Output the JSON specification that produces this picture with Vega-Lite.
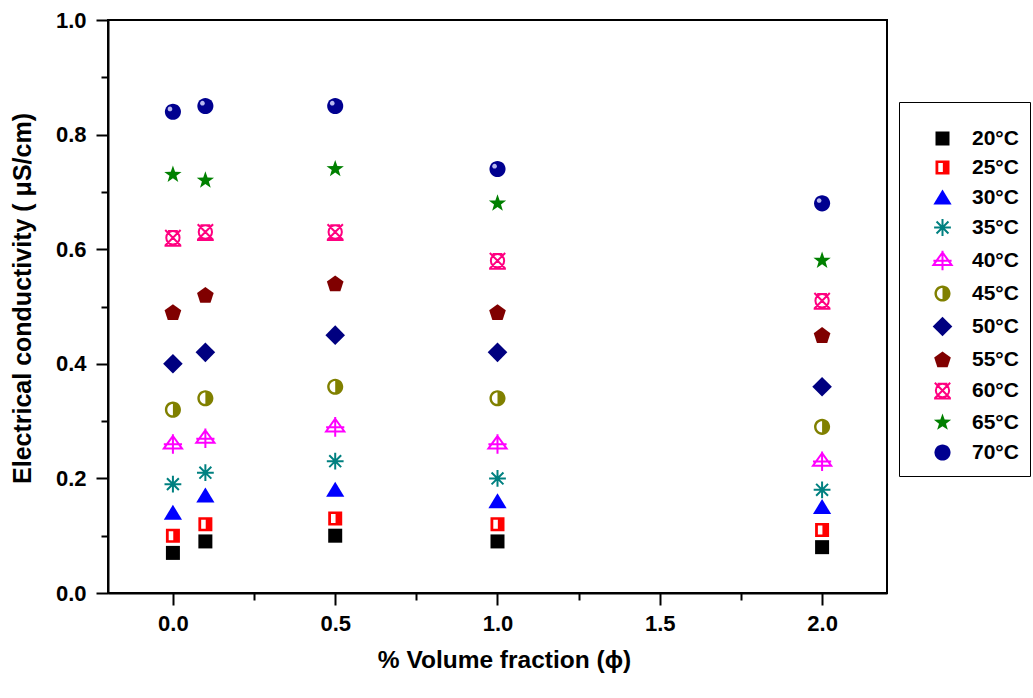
{
  "$schema": "https://vega.github.io/schema/vega-lite/v6.json",
  "width": 779,
  "height": 573,
  "autosize": {"type": "none"},
  "padding": {"left": 108, "top": 20, "right": 146, "bottom": 105},
  "background": "white",
  "data": {
    "values": [
      {"phi": 0, "temp": "20°C", "sigma": 0.07},
      {"phi": 0, "temp": "25°C", "sigma": 0.10},
      {"phi": 0, "temp": "30°C", "sigma": 0.14},
      {"phi": 0, "temp": "35°C", "sigma": 0.19},
      {"phi": 0, "temp": "40°C", "sigma": 0.26},
      {"phi": 0, "temp": "45°C", "sigma": 0.32},
      {"phi": 0, "temp": "50°C", "sigma": 0.40},
      {"phi": 0, "temp": "55°C", "sigma": 0.49},
      {"phi": 0, "temp": "60°C", "sigma": 0.62},
      {"phi": 0, "temp": "65°C", "sigma": 0.73},
      {"phi": 0, "temp": "70°C", "sigma": 0.84},
      {"phi": 0.1, "temp": "20°C", "sigma": 0.09},
      {"phi": 0.1, "temp": "25°C", "sigma": 0.12},
      {"phi": 0.1, "temp": "30°C", "sigma": 0.17},
      {"phi": 0.1, "temp": "35°C", "sigma": 0.21},
      {"phi": 0.1, "temp": "40°C", "sigma": 0.27},
      {"phi": 0.1, "temp": "45°C", "sigma": 0.34},
      {"phi": 0.1, "temp": "50°C", "sigma": 0.42},
      {"phi": 0.1, "temp": "55°C", "sigma": 0.52},
      {"phi": 0.1, "temp": "60°C", "sigma": 0.63},
      {"phi": 0.1, "temp": "65°C", "sigma": 0.72},
      {"phi": 0.1, "temp": "70°C", "sigma": 0.85},
      {"phi": 0.5, "temp": "20°C", "sigma": 0.10},
      {"phi": 0.5, "temp": "25°C", "sigma": 0.13},
      {"phi": 0.5, "temp": "30°C", "sigma": 0.18},
      {"phi": 0.5, "temp": "35°C", "sigma": 0.23},
      {"phi": 0.5, "temp": "40°C", "sigma": 0.29},
      {"phi": 0.5, "temp": "45°C", "sigma": 0.36},
      {"phi": 0.5, "temp": "50°C", "sigma": 0.45},
      {"phi": 0.5, "temp": "55°C", "sigma": 0.54},
      {"phi": 0.5, "temp": "60°C", "sigma": 0.63},
      {"phi": 0.5, "temp": "65°C", "sigma": 0.74},
      {"phi": 0.5, "temp": "70°C", "sigma": 0.85},
      {"phi": 1.0, "temp": "20°C", "sigma": 0.09},
      {"phi": 1.0, "temp": "25°C", "sigma": 0.12},
      {"phi": 1.0, "temp": "30°C", "sigma": 0.16},
      {"phi": 1.0, "temp": "35°C", "sigma": 0.20},
      {"phi": 1.0, "temp": "40°C", "sigma": 0.26},
      {"phi": 1.0, "temp": "45°C", "sigma": 0.34},
      {"phi": 1.0, "temp": "50°C", "sigma": 0.42},
      {"phi": 1.0, "temp": "55°C", "sigma": 0.49},
      {"phi": 1.0, "temp": "60°C", "sigma": 0.58},
      {"phi": 1.0, "temp": "65°C", "sigma": 0.68},
      {"phi": 1.0, "temp": "70°C", "sigma": 0.74},
      {"phi": 2.0, "temp": "20°C", "sigma": 0.08},
      {"phi": 2.0, "temp": "25°C", "sigma": 0.11},
      {"phi": 2.0, "temp": "30°C", "sigma": 0.15},
      {"phi": 2.0, "temp": "35°C", "sigma": 0.18},
      {"phi": 2.0, "temp": "40°C", "sigma": 0.23},
      {"phi": 2.0, "temp": "45°C", "sigma": 0.29},
      {"phi": 2.0, "temp": "50°C", "sigma": 0.36},
      {"phi": 2.0, "temp": "55°C", "sigma": 0.45},
      {"phi": 2.0, "temp": "60°C", "sigma": 0.51},
      {"phi": 2.0, "temp": "65°C", "sigma": 0.58},
      {"phi": 2.0, "temp": "70°C", "sigma": 0.68}
    ]
  },
  "encoding": {
    "x": {
      "field": "phi", "type": "quantitative",
      "scale": {"domain": [-0.2, 2.2], "nice": false, "zero": false},
      "axis": {
        "title": "% Volume fraction  (ϕ)",
        "titleFontSize": 24.5,
        "titleX": 396,
        "values": [0, 0.25, 0.5, 0.75, 1, 1.25, 1.5, 1.75, 2],
        "labelExpr": "datum.value % 0.5 == 0 ? format(datum.value, '.1f') : ''",
        "tickSize": {"condition": {"test": "datum.value % 0.5 == 0", "value": 12}, "value": 7},
        "labelPadding": 8,
        "labelFlush": false,
        "labelOverlap": false,
        "titlePadding": 14
      }
    },
    "y": {
      "field": "sigma", "type": "quantitative",
      "scale": {"domain": [0, 1], "nice": false, "zero": false},
      "axis": {
        "title": "Electrical conductivity ( μS/cm)",
        "titleFontSize": 25,
        "titleY": 278,
        "values": [0, 0.1, 0.2, 0.3, 0.4, 0.5, 0.6, 0.7, 0.8, 0.9, 1.0],
        "labelExpr": "round(datum.value * 10) % 2 == 0 ? format(datum.value, '.1f') : ''",
        "tickSize": {"condition": {"test": "round(datum.value * 10) % 2 == 0", "value": 12}, "value": 7},
        "labelPadding": 10,
        "labelFlush": false,
        "labelOverlap": false,
        "titlePadding": 20
      }
    }
  },
  "layer": [
    {
      "mark": {"type": "point", "size": 196, "strokeWidth": 2, "opacity": 1},
      "encoding": {
        "shape": {
          "field": "temp", "type": "nominal",
          "scale": {
            "domain": ["20°C", "25°C", "30°C", "35°C", "40°C", "45°C", "50°C", "55°C", "60°C", "65°C", "70°C"],
            "range": [
              "M-1,-1H1V1H-1Z",
              "M-1,-1H1V1H-1ZM-0.6,-0.65V0.65H0.05V-0.65Z",
              "M0,-1.15L1.3,1H-1.3Z",
              "M-1.2,0H1.2M0,-1.2V1.2M-0.85,-0.85L0.85,0.85M-0.85,0.85L0.85,-0.85",
              "M0,-1.15L1.3,0.65H-1.3ZM0,-1.4V1.4M-1.3,0.05H1.3",
              "M0,-1.15A1.15,1.15,0,1,1,0,1.15A1.15,1.15,0,1,1,0,-1.15ZM0,-0.8A0.8,0.8,0,0,0,0,0.8Z",
              "M0,-1.4L1.4,0L0,1.4L-1.4,0Z",
              "M0,-1.15L1.189,-0.286L0.735,1.111L-0.735,1.111L-1.189,-0.286Z",
              "M-0.95,0A0.95,0.95,0,1,0,0.95,0A0.95,0.95,0,1,0,-0.95,0ZM-1.1,-1.1L1.1,1.1M-1.1,1.1L1.1,-1.1M-1.2,1.15H1.2M-0.7,-0.95H0.7",
              "M0,-1.3L0.306,-0.421L1.236,-0.402L0.495,0.161L0.764,1.052L0,0.52L-0.764,1.052L-0.495,0.161L-1.236,-0.402L-0.306,-0.421Z",
              "M-1.15,0A1.15,1.15,0,1,0,1.15,0A1.15,1.15,0,1,0,-1.15,0Z"
            ]
          },
          "legend": {
            "orient": "none",
            "legendX": 791,
            "legendY": 82,
            "title": " ",
            "titleFontSize": 10,
            "titlePadding": 5,
            "padding": 11,
            "symbolOffset": 22,
            "labelOffset": 19,
            "labelFont": "Liberation Sans",
            "labelFontWeight": "bold",
            "labelFontSize": 21,
            "labelColor": "black",
            "labelLimit": 300,
            "rowPadding": 6,
            "symbolSize": 196,
            "symbolStrokeWidth": 2,
            "strokeColor": "black",
            "fillColor": "white",
            "encode": {"legend": {"update": {"strokeWidth": {"value": 2}}}}
          }
        },
        "fill": {
          "field": "temp", "type": "nominal",
          "scale": {
            "domain": ["20°C", "25°C", "30°C", "35°C", "40°C", "45°C", "50°C", "55°C", "60°C", "65°C", "70°C"],
            "range": ["#000000", "#FF0000", "#0000FF", "transparent", "transparent", "#808000", "#000080", "#800000", "transparent", "#008000", "#000090"]
          }
        },
        "stroke": {
          "field": "temp", "type": "nominal",
          "scale": {
            "domain": ["20°C", "25°C", "30°C", "35°C", "40°C", "45°C", "50°C", "55°C", "60°C", "65°C", "70°C"],
            "range": ["transparent", "transparent", "transparent", "#008080", "#FF00FF", "transparent", "transparent", "transparent", "#FF0080", "transparent", "transparent"]
          }
        }
      }
    },
    {
      "transform": [{"filter": "datum.temp == '70°C'"}],
      "mark": {
        "type": "point",
        "size": 196,
        "filled": true,
        "opacity": 0.85,
        "strokeWidth": 0,
        "fill": "#d8d8ff",
        "shape": "M-0.75,-0.4A0.33,0.33,0,1,0,-0.09,-0.4A0.33,0.33,0,1,0,-0.75,-0.4Z"
      }
    }
  ],
  "config": {
    "font": "Liberation Sans",
    "view": {"stroke": "black", "strokeWidth": 2},
    "axis": {
      "grid": false,
      "domainColor": "black",
      "domainWidth": 2,
      "tickColor": "black",
      "tickWidth": 2,
      "labelFont": "Liberation Sans",
      "labelFontWeight": "bold",
      "labelFontSize": 22,
      "labelColor": "black",
      "titleFont": "Liberation Sans",
      "titleFontWeight": "bold",
      "titleColor": "black"
    }
  }
}
